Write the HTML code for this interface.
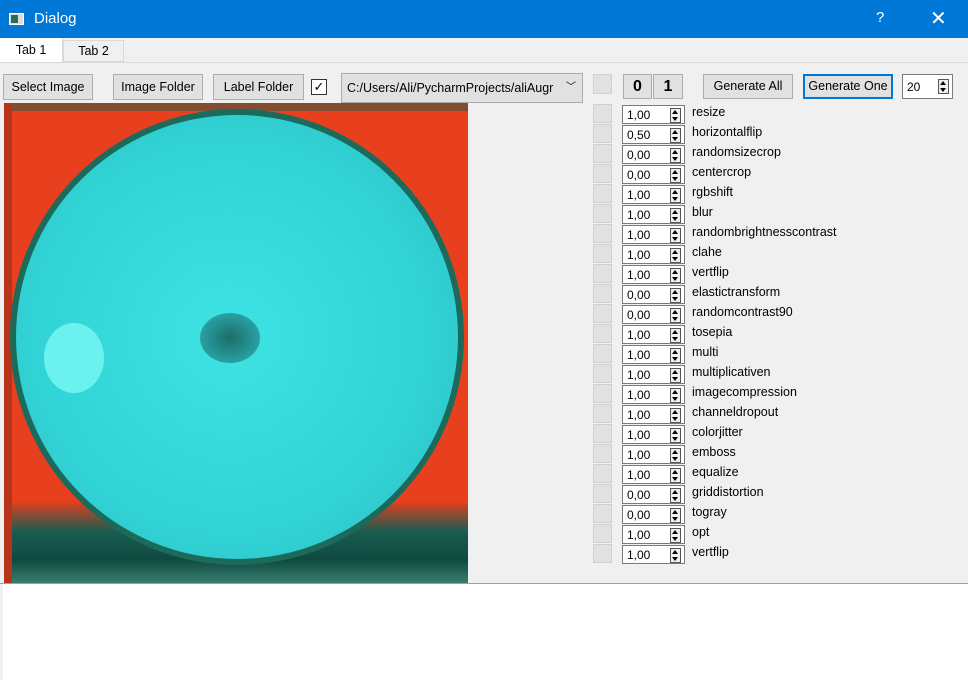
<!DOCTYPE html>
<html><head><meta charset="utf-8"><style>
body{margin:0;width:968px;height:680px;overflow:hidden;background:#f0f0f0;font-family:"Liberation Sans","DejaVu Sans",sans-serif;font-size:12px;position:relative}
.a{position:absolute;box-sizing:border-box}
.btn{background:#e1e1e1;border:1px solid #adadad;text-align:center;line-height:22px;color:#000;font-size:12.5px}
.sq{background:#e1e1e1;border:1px solid #d0d0d0;width:19px;height:19px;left:593px}
.spin{left:622px;width:63px;height:19px;background:#fff;border:1px solid #7a7a7a;font-size:12px;line-height:18px;padding-left:4px}
.arr{position:absolute;right:3px;top:2px;width:9px;height:13px;border:1px solid #555;background:#eee}
.arr:before{content:"";position:absolute;left:1px;top:1px;border:3px solid transparent;border-bottom:4px solid #000;border-top:0}
.arr:after{content:"";position:absolute;left:1px;bottom:1px;border:3px solid transparent;border-top:4px solid #000;border-bottom:0}
.lbl{left:692px;font-size:12.5px;line-height:16px}
</style></head><body>
<div class="a" style="left:0;top:0;width:968px;height:38px;background:#0078d7;color:#fff">
 <div class="a" style="left:9px;top:13px;width:15px;height:12px;background:#ddd;border:1px solid #fff"><div class="a" style="left:1px;top:1px;width:7px;height:8px;background:#2f6b5a"></div></div>
 <div class="a" style="left:34px;top:10px;font-size:15px">Dialog</div>
 <div class="a" style="left:876px;top:9px;font-size:15px">?</div>
 <div class="a" style="left:930px;top:6px;font-size:20px">✕</div>
</div>
<div class="a" style="left:0;top:38px;width:63px;height:25px;background:#fff;border-right:1px solid #d9d9d9;text-align:center;line-height:25px;font-size:12.5px">Tab 1</div>
<div class="a" style="left:63px;top:40px;width:61px;height:22px;background:#f0f0f0;border:1px solid #d9d9d9;text-align:center;line-height:21px;font-size:12.5px">Tab 2</div>
<div class="a" style="left:0;top:62px;width:968px;height:1px;background:#d9d9d9"></div>
<div class="a btn" style="left:3px;top:74px;width:90px;height:26px;line-height:24px">Select Image</div>
<div class="a btn" style="left:113px;top:74px;width:90px;height:26px;line-height:24px">Image Folder</div>
<div class="a btn" style="left:213px;top:74px;width:91px;height:26px;line-height:24px">Label Folder</div>
<div class="a" style="left:311px;top:79px;width:16px;height:16px;background:#fff;border:1px solid #333;font-size:13px;line-height:14px;text-align:center">✓</div>
<div class="a btn" style="left:341px;top:73px;width:242px;height:30px;line-height:28px;text-align:left;padding-left:5px">C:/Users/Ali/PycharmProjects/aliAugr<span style="position:absolute;right:6px;font-size:10px">﹀</span></div>
<div class="a sq" style="top:74px;height:20px"></div>
<div class="a btn" style="left:623px;top:74px;width:29px;height:25px;font-weight:bold;font-size:16px;line-height:24px">0</div>
<div class="a btn" style="left:653px;top:74px;width:30px;height:25px;font-weight:bold;font-size:16px;line-height:24px">1</div>
<div class="a btn" style="left:703px;top:74px;width:90px;height:25px">Generate All</div>
<div class="a btn" style="left:803px;top:74px;width:90px;height:25px;border:2px solid #0078d7;line-height:21px">Generate One</div>
<div class="a spin" style="left:902px;top:74px;width:51px;height:25px;line-height:24px">20<div class="arr" style="top:4px"></div></div>
<div class="a" style="left:4px;top:103px;width:464px;height:481px;overflow:hidden;background:#e8401f">
 <div class="a" style="left:0;top:0;width:464px;height:8px;background:#1d5a48;opacity:.5"></div>
 <div class="a" style="left:0;top:400px;width:464px;height:81px;background:linear-gradient(#d84020,#1b5c50 35%,#0f4a40 70%,#3a8070)"></div>
 <div class="a" style="left:0;top:0;width:8px;height:481px;background:#b5341a"></div>
 <div class="a" style="left:6px;top:6px;width:454px;height:456px;border-radius:50%;background:#1b6a5c"></div>
 <div class="a" style="left:12px;top:12px;width:442px;height:444px;border-radius:50%;background:radial-gradient(circle at 48% 50%,#3fe3e3,#31d4d6 60%,#2fbcc0 95%)"></div>
 <div class="a" style="left:196px;top:210px;width:60px;height:50px;border-radius:50%;background:radial-gradient(#1d6c68,#2aa8ab 80%,transparent)"></div>
 <div class="a" style="left:40px;top:220px;width:60px;height:70px;border-radius:50%;background:#6cf2ee"></div>
</div>
<div class="a" style="left:0;top:583px;width:968px;height:1px;background:#a0a0a0"></div>
<div class="a" style="left:3px;top:584px;width:965px;height:96px;background:#fff"></div>
<div id="rows"></div>
<script>
const names=["resize","horizontalflip","randomsizecrop","centercrop","rgbshift","blur","randombrightnesscontrast","clahe","vertflip","elastictransform","randomcontrast90","tosepia","multi","multiplicativen","imagecompression","channeldropout","colorjitter","emboss","equalize","griddistortion","togray","opt","vertflip"];
const vals=["1,00","0,50","0,00","0,00","1,00","1,00","1,00","1,00","1,00","0,00","0,00","1,00","1,00","1,00","1,00","1,00","1,00","1,00","1,00","0,00","0,00","1,00","1,00"];
const r=document.getElementById('rows');
names.forEach((n,i)=>{const y=104+i*20;
 const s=document.createElement('div');s.className='a sq';s.style.top=y+'px';
 
 r.appendChild(s);
 const p=document.createElement('div');p.className='a spin';p.style.top=(y+1)+'px';p.innerHTML=vals[i]+'<div class="arr"></div>';
 
 r.appendChild(p);
 const l=document.createElement('div');l.className='a lbl';l.style.top=(y+0)+'px';l.textContent=n;
 
 r.appendChild(l);});
</script>
</body></html>
